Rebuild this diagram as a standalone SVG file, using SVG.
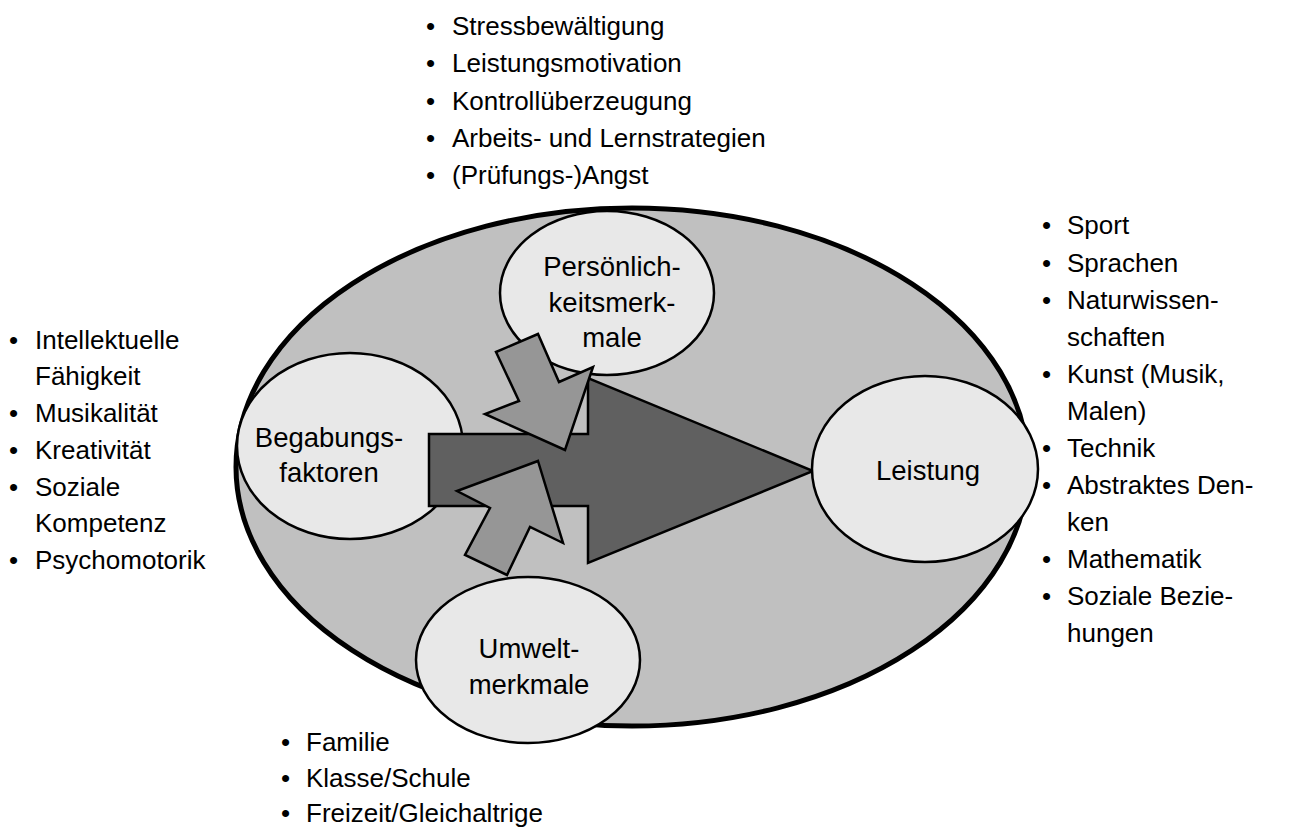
<svg xmlns="http://www.w3.org/2000/svg" width="1296" height="830" viewBox="0 0 1296 830">
<style>
  .lst { font-family: "Liberation Sans", Arial, sans-serif; font-size: 26px; fill: #000; }
  .lbl { font-family: "Liberation Sans", Arial, sans-serif; font-size: 27.5px; fill: #000; text-anchor: middle; }
  .node { fill: #e8e8e8; stroke: #000; stroke-width: 2.5; }
  .small { fill: #969696; stroke: #000; stroke-width: 2.5; stroke-linejoin: miter; }
  .big { fill: #606060; stroke: #000; stroke-width: 2.5; stroke-linejoin: miter; }
</style>
<rect width="1296" height="830" fill="#fff"/>

<g id="frame">
  <ellipse cx="632" cy="467" rx="396" ry="259" fill="#c0c0c0" stroke="#000" stroke-width="5"/>
</g>

<g id="begabung">
  <ellipse class="node" cx="350" cy="446" rx="113" ry="93"/>
</g>
<g id="persoenlichkeit">
  <ellipse class="node" cx="607" cy="293" rx="107" ry="82"/>
  <text class="lbl" x="612" y="276">Persönlich-</text>
  <text class="lbl" x="612" y="312">keitsmerk-</text>
  <text class="lbl" x="612" y="347">male</text>
</g>
<g id="umwelt">
  <ellipse class="node" cx="528" cy="660" rx="112" ry="83"/>
  <text class="lbl" x="529" y="658">Umwelt-</text>
  <text class="lbl" x="529" y="694">merkmale</text>
</g>

<g id="connectors">
  <polygon class="big" points="429,434 588,434 588,378 813,471 588,563 588,506 429,506"/>
  <polygon class="small" points="496,352 538,334 559,382 593,367 565,450 485,414 519,401"/>
  <polygon class="small" points="538,461 563,543 530,527 507,575 465,555 490,508 457,491"/>
</g>

<g id="begabung-label">
  <text class="lbl" x="329" y="447">Begabungs-</text>
  <text class="lbl" x="329" y="482">faktoren</text>
</g>

<g id="leistung">
  <ellipse class="node" cx="925" cy="469" rx="113" ry="93"/>
  <text class="lbl" x="928" y="480">Leistung</text>
</g>

<g id="list-top" class="lst">
  <text y="35"><tspan x="426">•</tspan><tspan x="452">Stressbewältigung</tspan></text>
  <text y="72"><tspan x="426">•</tspan><tspan x="452">Leistungsmotivation</tspan></text>
  <text y="110"><tspan x="426">•</tspan><tspan x="452">Kontrollüberzeugung</tspan></text>
  <text y="147"><tspan x="426">•</tspan><tspan x="452">Arbeits- und Lernstrategien</tspan></text>
  <text y="184"><tspan x="426">•</tspan><tspan x="452">(Prüfungs-)Angst</tspan></text>
</g>

<g id="list-left" class="lst">
  <text y="349"><tspan x="9">•</tspan><tspan x="35">Intellektuelle</tspan></text>
  <text y="385"><tspan x="35">Fähigkeit</tspan></text>
  <text y="422"><tspan x="9">•</tspan><tspan x="35">Musikalität</tspan></text>
  <text y="459"><tspan x="9">•</tspan><tspan x="35">Kreativität</tspan></text>
  <text y="496"><tspan x="9">•</tspan><tspan x="35">Soziale</tspan></text>
  <text y="532"><tspan x="35">Kompetenz</tspan></text>
  <text y="569"><tspan x="9">•</tspan><tspan x="35">Psychomotorik</tspan></text>
</g>

<g id="list-right" class="lst">
  <text y="234"><tspan x="1042">•</tspan><tspan x="1067">Sport</tspan></text>
  <text y="272"><tspan x="1042">•</tspan><tspan x="1067">Sprachen</tspan></text>
  <text y="309"><tspan x="1042">•</tspan><tspan x="1067">Naturwissen-</tspan></text>
  <text y="346"><tspan x="1067">schaften</tspan></text>
  <text y="383"><tspan x="1042">•</tspan><tspan x="1067">Kunst (Musik,</tspan></text>
  <text y="420"><tspan x="1067">Malen)</tspan></text>
  <text y="457"><tspan x="1042">•</tspan><tspan x="1067">Technik</tspan></text>
  <text y="494"><tspan x="1042">•</tspan><tspan x="1067">Abstraktes Den-</tspan></text>
  <text y="531"><tspan x="1067">ken</tspan></text>
  <text y="568"><tspan x="1042">•</tspan><tspan x="1067">Mathematik</tspan></text>
  <text y="605"><tspan x="1042">•</tspan><tspan x="1067">Soziale Bezie-</tspan></text>
  <text y="642"><tspan x="1067">hungen</tspan></text>
</g>

<g id="list-bottom" class="lst">
  <text y="751"><tspan x="281">•</tspan><tspan x="306">Familie</tspan></text>
  <text y="787"><tspan x="281">•</tspan><tspan x="306">Klasse/Schule</tspan></text>
  <text y="822"><tspan x="281">•</tspan><tspan x="306">Freizeit/Gleichaltrige</tspan></text>
</g>
</svg>
